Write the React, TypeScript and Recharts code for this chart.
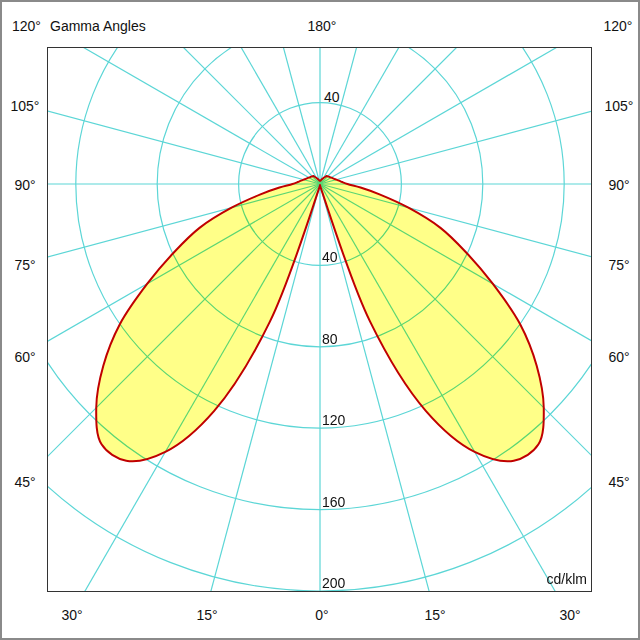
import { RadarChart, Radar, PolarGrid, PolarAngleAxis, PolarRadiusAxis } from "recharts";

// gamma angles (deg from nadir) and luminous intensity in cd/klm
const gammaAngles = [
  0, 5, 10, 15, 20, 25, 30, 35, 40, 45, 50, 55, 60, 65, 70, 75, 80, 85, 90,
  95, 100, 105, 110, 115, 120, 125, 130, 135, 140, 145, 150, 155, 160, 165, 170, 175, 180,
];
const intensityC0 = [
  0.5, 1, 1.5, 4, 72, 123, 152, 166, 167, 155.5, 139, 120, 98, 79, 63, 45, 30, 20, 13.5,
  11, 9.5, 8.3, 7.4, 6.8, 6.3, 5.9, 5.6, 5.3, 5.1, 4.2, 3.4, 2.8, 2.3, 2, 1.8, 1.6, 1.5,
];

const radiusTicks = [40, 80, 120, 160, 200];
const spokeAngles = [0, 15, 30, 45, 60, 75, 90, 105, 120, 135, 150, 165, 180, 195, 210, 225, 240, 255, 270, 285, 300, 315, 330, 345];

const sideLabels = ["105°", "90°", "75°", "60°", "45°"];
const bottomLabels = ["30°", "15°", "0°", "15°", "30°"];

// right half runs clockwise from top (180°) to bottom (0°), left half back up
const radarData = Array.from({ length: 72 }, (_, k) => {
  const i = Math.abs(36 - k);
  return { pos: k, gamma: gammaAngles[i], cd: intensityC0[i] };
});

const font = "'Liberation Sans', Arial, sans-serif";
const grid = "#5CD6D6";

const sideY = [104, 183, 263, 355, 480];
const bottomX = [70, 205, 320, 433, 568];

// closed centripetal catmull-rom through the radar points
function smoothPath(pts: { x: number; y: number }[]) {
  const n = pts.length;
  const dist = (a: any, b: any) => Math.hypot(a.x - b.x, a.y - b.y);
  let d = `M${pts[0].x},${pts[0].y}`;
  for (let i = 0; i < n; i++) {
    const p0 = pts[(i - 1 + n) % n];
    const p1 = pts[i];
    const p2 = pts[(i + 1) % n];
    const p3 = pts[(i + 2) % n];
    const l01 = Math.sqrt(dist(p0, p1));
    const l12 = Math.sqrt(dist(p1, p2));
    const l23 = Math.sqrt(dist(p2, p3));
    let c1x = p1.x, c1y = p1.y, c2x = p2.x, c2y = p2.y;
    if (l01 > 1e-6) {
      const a = 2 * l01 * l01 + 3 * l01 * l12 + l12 * l12;
      const m = 3 * l01 * (l01 + l12);
      c1x = (p1.x * a - p0.x * l12 * l12 + p2.x * l01 * l01) / m;
      c1y = (p1.y * a - p0.y * l12 * l12 + p2.y * l01 * l01) / m;
    }
    if (l23 > 1e-6) {
      const b = 2 * l23 * l23 + 3 * l23 * l12 + l12 * l12;
      const m = 3 * l23 * (l23 + l12);
      c2x = (p2.x * b + p1.x * l23 * l23 - p3.x * l12 * l12) / m;
      c2y = (p2.y * b + p1.y * l23 * l23 - p3.y * l12 * l12) / m;
    }
    d += `C${c1x},${c1y} ${c2x},${c2y} ${p2.x},${p2.y}`;
  }
  return d + "Z";
}

function LobeShape(props: any) {
  const d = smoothPath(props.points);
  return (
    <g>
      <path d={d} fill="#FFFF88" stroke="none" style={{ mixBlendMode: "multiply" }} />
      <path d={d} fill="none" stroke="#C00000" strokeWidth={2} strokeLinejoin="round" />
    </g>
  );
}

function Label({ x, y, text, align = "center" }: { x: number; y: number; text: string; align?: string }) {
  const tx = align === "left" ? "0" : align === "right" ? "-100%" : "-50%";
  return (
    <div
      style={{
        position: "absolute",
        left: x,
        top: y,
        transform: `translate(${tx}, -50%)`,
        fontSize: 14,
        color: "#111",
        whiteSpace: "nowrap",
        lineHeight: "16px",
      }}
    >
      {text}
    </div>
  );
}

function RadiusTick(props: any) {
  const { x, y, payload } = props;
  return (
    <text x={x + 2} y={y - 3} fontSize={14} fill="#111" fontFamily={font}>
      {payload.value}
    </text>
  );
}

export default function App() {
  return (
    <div
      style={{
        position: "absolute",
        left: 0,
        top: 0,
        width: 640,
        height: 640,
        boxSizing: "border-box",
        border: "2px solid #8a8a8a",
        background: "#fff",
        fontFamily: font,
      }}
    >
      <div
        style={{
          position: "absolute",
          left: 45,
          top: 45,
          width: 545,
          height: 545,
          boxSizing: "border-box",
          border: "1px solid #333",
          overflow: "hidden",
          isolation: "isolate",
        }}
      >
        <RadarChart
          width={543}
          height={543}
          data={radarData}
          cx={272}
          cy={136}
          outerRadius={488.4}
          margin={{ top: 0, right: 0, bottom: 0, left: 0 }}
        >
          <PolarGrid gridType="circle" polarAngles={spokeAngles} stroke={grid} strokeWidth={1.2} />
          <PolarAngleAxis dataKey="pos" tick={false} axisLine={false} tickLine={false} />
          <PolarRadiusAxis
            angle={-90}
            domain={[0, 240]}
            ticks={radiusTicks}
            axisLine={false}
            tickLine={false}
            tick={RadiusTick}
          />
          <Radar dataKey="cd" shape={LobeShape} dot={false} isAnimationActive={false} />
        </RadarChart>
        <div style={{ position: "absolute", right: 4, bottom: 4, fontSize: 14, color: "#111" }}>cd/klm</div>
      </div>

      <Label x={10} y={24} text="120°" align="left" />
      <Label x={48} y={24} text="Gamma Angles" align="left" />
      <Label x={320} y={24} text="180°" />
      <Label x={616} y={24} text="120°" />
      <Label x={322} y={95} text="40" align="left" />
      {sideLabels.map((t, i) => (
        <Label key={"l" + i} x={23} y={sideY[i]} text={t} />
      ))}
      {sideLabels.map((t, i) => (
        <Label key={"r" + i} x={617} y={sideY[i]} text={t} />
      ))}
      {bottomLabels.map((t, i) => (
        <Label key={"b" + i} x={bottomX[i]} y={613} text={t} />
      ))}
    </div>
  );
}
